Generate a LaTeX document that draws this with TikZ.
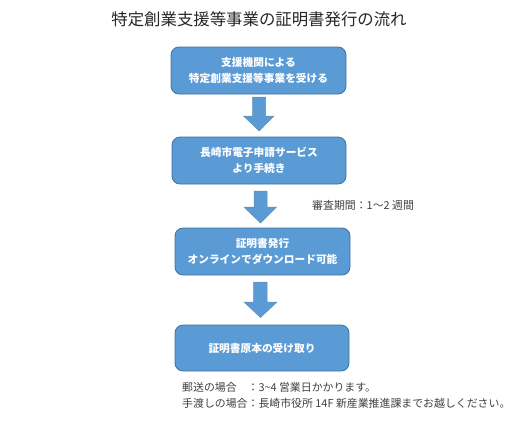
\documentclass[tikz,border=0pt]{standalone}
\usepackage{fontspec}
\setmainfont{Noto Sans CJK JP}
\definecolor{boxfill}{HTML}{5B9BD5}
\definecolor{boxline}{HTML}{41719C}
\definecolor{notegray}{HTML}{404040}
\tikzset{
  flowbox/.style={rectangle, rounded corners=8pt, fill=boxfill, draw=boxline, line width=0.8pt,
    text=white, font=\fontsize{10.7}{16}\selectfont\bfseries, align=center, inner sep=0pt},
  blockarrow/.style={fill=boxfill, draw=boxline!80, line width=0.5pt},
  notetext/.style={text=notegray, font=\fontsize{10.9}{15}\selectfont, inner sep=0pt},
}
\begin{document}
\begin{tikzpicture}[x=1pt,y=-1pt]
\useasboundingbox (0,0) rectangle (526,426);
\node[text=black!85, font=\fontsize{16.4}{19}\selectfont, inner sep=0pt] (title) at (259,19) {特定創業支援等事業の証明書発行の流れ};

\node[flowbox, minimum width=175pt, minimum height=47pt] (b1) at (258.5,70.5) {支援機関による\\特定創業支援等事業を受ける};
\node[flowbox, minimum width=174pt, minimum height=47pt] (b2) at (259,160.5) {長崎市電子申請サービス\\より手続き};
\node[flowbox, minimum width=175pt, minimum height=47pt] (b3) at (262.5,251.5) {証明書発行\\オンラインでダウンロード可能};
\node[flowbox, minimum width=174pt, minimum height=46pt] (b4) at (262,348) {証明書原本の受け取り};

% block arrows
\draw[blockarrow] (252.7,97) -- (265.7,97) -- (265.7,116) -- (274,116) -- (259.2,131) -- (243.5,116) -- (252.7,116) -- cycle;
\draw[blockarrow] (254,191) -- (267,191) -- (267,207) -- (276.5,207) -- (260.5,223) -- (244,207) -- (254,207) -- cycle;
\draw[blockarrow] (253.5,282) -- (267,282) -- (267,302) -- (277,302) -- (260.5,317.5) -- (244,302) -- (253.5,302) -- cycle;

\node[notetext, anchor=west] (period) at (312,205) {審査期間：1～2 週間};
\node[notetext, anchor=west] (note1) at (182,387) {郵送の場合　：3\textasciitilde4 営業日かかります。};
\node[notetext, anchor=west] (note2) at (182,403) {手渡しの場合：長崎市役所 14F 新産業推進課までお越しください。};
\end{tikzpicture}
\end{document}
